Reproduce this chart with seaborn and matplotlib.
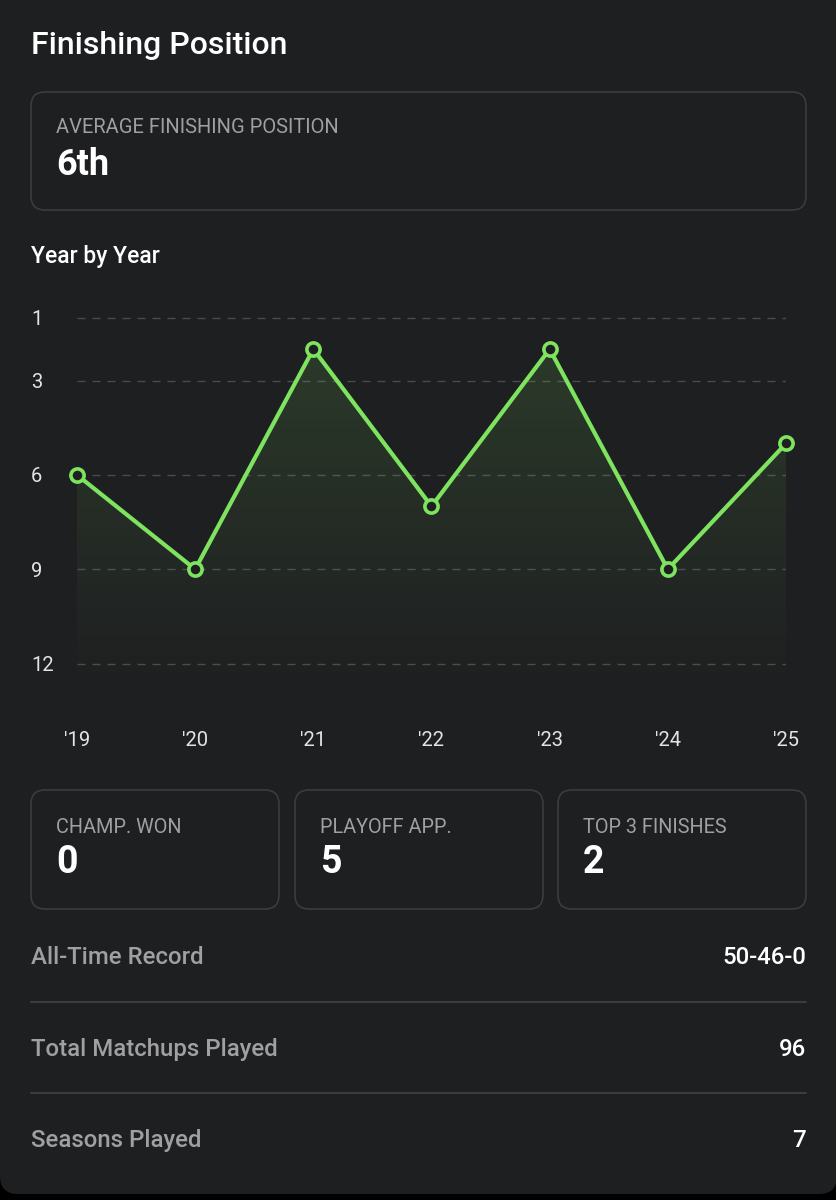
import matplotlib.pyplot as plt
import numpy as np
import seaborn as sns
from matplotlib.colors import to_rgb
from matplotlib.patches import FancyBboxPatch

# data
seasons = ["'19", "'20", "'21", "'22", "'23", "'24", "'25"]
finish = [6, 9, 2, 7, 2, 9, 5]
y_ticks = [1, 3, 6, 9, 12]

avg_label = "AVERAGE FINISHING POSITION"
avg_value = "6th"
card_labels = ["CHAMP. WON", "PLAYOFF APP.", "TOP 3 FINISHES"]
card_values = ["0", "5", "2"]
row_labels = ["All-Time Record", "Total Matchups Played", "Seasons Played"]
row_values = ["50-46-0", "96", "7"]

BG = "#1e1f21"
GREEN = "#7ee35f"
EDGE = "#3b3c3f"
GRAY = "#a0a0a2"
FONT = "Roboto"

W, H = 837, 1200

sns.set_theme(style="dark")
plt.rcParams["font.family"] = [FONT, "DejaVu Sans"]

fig = plt.figure(figsize=(W / 100, H / 100), dpi=100)
fig.patch.set_facecolor("#000000")

# full-figure layer in pixel coords for the card layout
bg = fig.add_axes([0, 0, 1, 1])
bg.set_xlim(0, W)
bg.set_ylim(H, 0)
bg.axis("off")
bg.patch.set_alpha(0)

bg.add_patch(FancyBboxPatch((0, -40), W, H - 6 + 40, boxstyle="round,pad=0,rounding_size=18",
                            fc=BG, ec="none"))

bg.text(31, 54, "Finishing Position", color="white", fontsize=23, fontweight="medium",
        va="baseline")

# average card
bg.add_patch(FancyBboxPatch((31, 92), 775, 118, boxstyle="round,pad=0,rounding_size=14",
                            fc=BG, ec=EDGE, lw=1.2))
bg.text(56, 133, avg_label, color=GRAY, fontsize=14.5, fontweight="normal", va="baseline")
bg.text(56, 175, avg_value, color="white", fontsize=26, fontweight="bold", va="baseline")

bg.text(31, 263, "Year by Year", color="white", fontsize=16.5, fontweight="medium",
        va="baseline")

# three small cards
card_x = [31, 295, 558]
for cx, lab, val in zip(card_x, card_labels, card_values):
    bg.add_patch(FancyBboxPatch((cx, 790), 248, 119, boxstyle="round,pad=0,rounding_size=14",
                                fc=BG, ec=EDGE, lw=1.2))
    bg.text(cx + 25, 833, lab, color=GRAY, fontsize=14.3, fontweight="normal", va="baseline")
    bg.text(cx + 25, 873, val, color="white", fontsize=27, fontweight="bold", va="baseline")

# record rows
row_y = [964, 1056, 1147]
for ry, lab, val in zip(row_y, row_labels, row_values):
    bg.text(31, ry, lab, color=GRAY, fontsize=17.3, fontweight="medium", va="baseline")
    bg.text(806, ry, val, color="white", fontsize=17.3, fontweight="medium", va="baseline",
            ha="right")
for ly in [1002, 1093]:
    bg.plot([31, 806], [ly, ly], color=EDGE, lw=1.5)

# the chart itself
ax = fig.add_axes([77 / W, 1 - 695 / H, (786 - 77) / W, (695 - 302) / H])
ax.set_facecolor("none")
x = list(range(len(seasons)))

poly = ax.fill_between(x, finish, 13, color="none", lw=0)
rgba = np.zeros((256, 1, 4))
rgba[..., :3] = to_rgb(GREEN)
rgba[..., 3] = np.linspace(0.15, 0.0, 256)[:, None]
img = ax.imshow(rgba, extent=[0, 6, 13, 1], aspect="auto", origin="upper", zorder=1)
img.set_clip_path(poly.get_paths()[0], transform=ax.transData)

sns.lineplot(x=x, y=finish, ax=ax, color=GREEN, lw=3.0, marker="o", markersize=9.5,
             markerfacecolor=BG, markeredgecolor=GREEN, markeredgewidth=2.6,
             clip_on=False, zorder=3)

ax.set_xlim(0, 6)
ax.set_ylim(13, 0.5)
ax.set_xticks(x)
ax.set_xticklabels(seasons)
ax.set_yticks(y_ticks)
ax.set_yticklabels([str(t) for t in y_ticks], ha="left")
ax.tick_params(axis="x", length=0, pad=26, labelsize=14.5, labelcolor="#e4e4e4")
ax.tick_params(axis="y", length=0, pad=33, labelsize=14.5, labelcolor="#e4e4e4")
ax.grid(False)
for t in y_ticks:
    ax.axhline(t, color="#4a4b4e", lw=1.0, ls=(0, (5.8, 5)), zorder=0.5)
for s in ax.spines.values():
    s.set_visible(False)
ax.set_xlabel("")
ax.set_ylabel("")

fig.savefig("out.png", dpi=100, facecolor=fig.get_facecolor())
